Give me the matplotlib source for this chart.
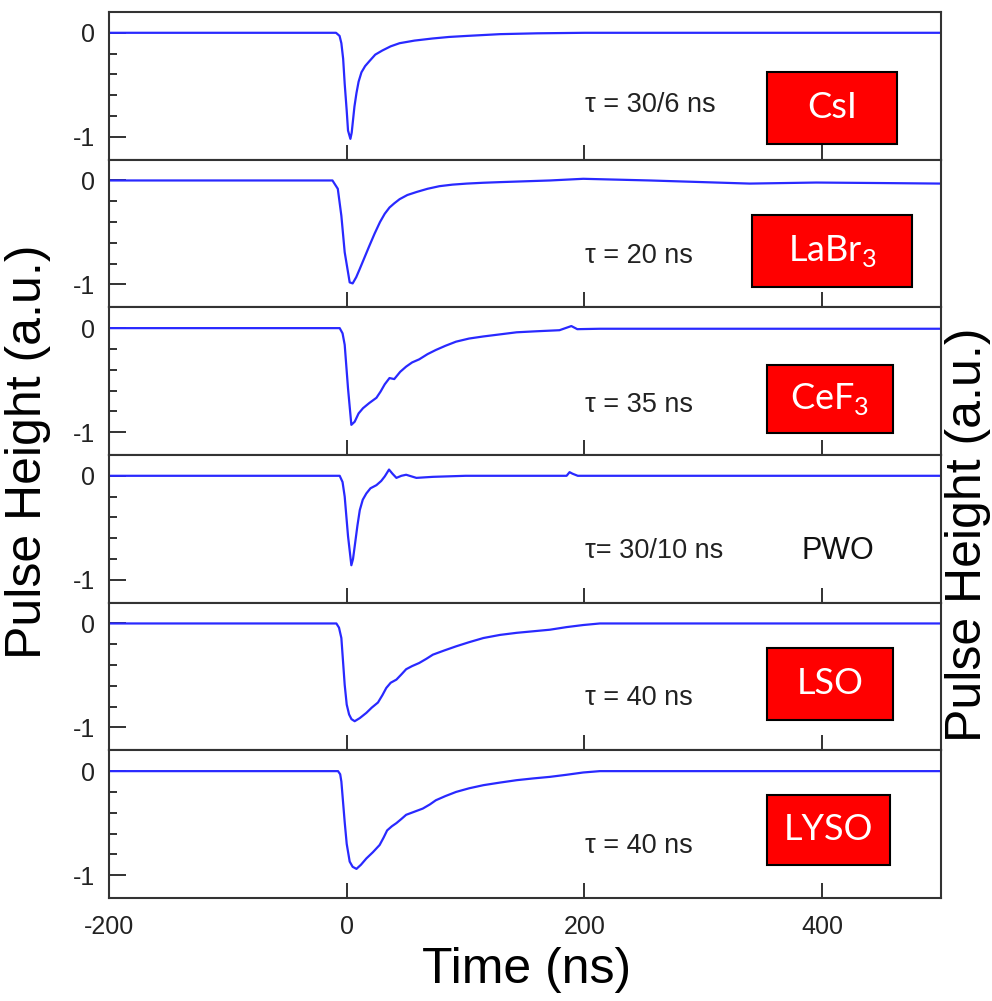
import matplotlib.pyplot as plt
from matplotlib.patches import Rectangle

plt.rcParams['font.family'] = ['Liberation Sans', 'DejaVu Sans']
plt.rcParams['mathtext.fontset'] = 'custom'
plt.rcParams['mathtext.rm'] = 'Lato'
plt.rcParams['axes.unicode_minus'] = False

W, H = 992, 1001

# pulse shapes (time in ns, height in a.u.)
t_csi = [-200, -9, -6, -4.5, -3, -1.7, 0, 1.1, 3.1, 4.2, 5.3, 6.5, 8.2, 10, 12.4, 15.5, 19.3, 24, 30, 37,
         44.5, 57, 72, 86, 101, 129, 160, 200, 500]
v_csi = [0, 0, -0.03, -0.10, -0.25, -0.49, -0.75, -0.94, -1.02, -0.96, -0.84, -0.71, -0.58, -0.47, -0.38,
         -0.32, -0.27, -0.21, -0.17, -0.13, -0.10, -0.075, -0.055, -0.04, -0.03, -0.013, -0.005, 0, 0]

t_labr = [-200, -12, -7.5, -4.5, -1.7, 2.5, 5, 8, 11, 15, 19, 23.5, 28, 32, 36, 40, 44.5, 51, 59, 68, 78,
          89, 101, 115, 129, 150, 171, 199, 255, 311, 339, 395, 451, 500]
v_labr = [0, 0, -0.08, -0.34, -0.69, -0.98, -0.99, -0.93, -0.85, -0.74, -0.63, -0.51, -0.40, -0.32, -0.26,
          -0.22, -0.18, -0.14, -0.11, -0.08, -0.055, -0.04, -0.03, -0.022, -0.016, -0.008, 0, 0.016,
          0.0, -0.02, -0.03, -0.02, -0.025, -0.03]

t_cef = [-200, -5.9, -3.5, -1.7, 1.1, 3.9, 6.7, 10, 13.7, 19, 25, 28.5, 32, 36, 40, 45, 50, 55, 61, 68, 75,
         83, 92, 103, 115, 129, 143, 160, 179, 189, 194, 213, 500]
v_cef = [0, 0, -0.05, -0.16, -0.58, -0.93, -0.90, -0.82, -0.77, -0.72, -0.67, -0.61, -0.54, -0.48, -0.49,
         -0.42, -0.37, -0.33, -0.30, -0.25, -0.21, -0.17, -0.13, -0.10, -0.08, -0.06, -0.04, -0.03,
         -0.02, 0.02, -0.01, -0.006, -0.006]

t_pwo = [-200, -5.9, -3.5, -1.7, 1.1, 3.9, 5.3, 6.7, 9, 11, 13.5, 16.5, 20, 25, 29, 32, 35.6, 38.5, 41.8,
         46, 50, 58.6, 72.5, 100, 185, 187.5, 190, 194.4, 500]
v_pwo = [0, 0, -0.06, -0.20, -0.58, -0.86, -0.80, -0.68, -0.48, -0.33, -0.23, -0.17, -0.12, -0.09,
         -0.05, -0.006, 0.06, 0.02, -0.02, 0.0, 0.01, -0.02, -0.01, 0, 0, 0.035, 0.02, 0, 0]

t_lso = [-200, -8.7, -6.5, -4.5, -1.7, 0, 2, 4, 6.7, 11, 16.5, 21, 26.3, 30, 33.3, 37, 41.8, 46, 50, 55,
         61, 67, 72.5, 82, 92, 103, 115, 129, 143, 157, 171, 185, 199, 213, 500]
v_lso = [0, 0, -0.04, -0.14, -0.59, -0.78, -0.875, -0.92, -0.94, -0.91, -0.86, -0.81, -0.76, -0.69,
         -0.62, -0.57, -0.54, -0.49, -0.44, -0.41, -0.38, -0.34, -0.30, -0.26, -0.22, -0.18, -0.14,
         -0.11, -0.09, -0.075, -0.06, -0.035, -0.015, 0, 0]

t_lyso = [-200, -7.3, -5.5, -4.5, -1.7, 0, 2.5, 5, 8.2, 12, 16.5, 22, 27.7, 31, 34, 38, 41.8, 46, 50,
          57, 64, 70, 75, 83, 92, 103, 115, 129, 143, 157, 171, 185, 199, 213, 500]
v_lyso = [0, 0, -0.03, -0.10, -0.49, -0.70, -0.87, -0.92, -0.94, -0.90, -0.84, -0.78, -0.71, -0.64,
          -0.57, -0.53, -0.50, -0.46, -0.42, -0.39, -0.36, -0.32, -0.28, -0.24, -0.20, -0.165,
          -0.135, -0.11, -0.087, -0.07, -0.055, -0.035, -0.013, 0, 0]

times = [t_csi, t_labr, t_cef, t_pwo, t_lso, t_lyso]
values = [v_csi, v_labr, v_cef, v_pwo, v_lso, v_lyso]
tau_labels = ['τ = 30/6 ns', 'τ = 20 ns', 'τ = 35 ns', 'τ= 30/10 ns', 'τ = 40 ns', 'τ = 40 ns']
crystals = ['CsI', r'LaBr$_\mathregular{3}$', r'CeF$_\mathregular{3}$', 'PWO', 'LSO', 'LYSO']
boxed = [True, True, True, False, True, True]

# boxes in picture pixels: left, top, right, bottom
boxes = [(767, 72, 897, 144), (752, 215, 912, 287), (767, 365, 893, 433), None,
         (767, 648, 893, 720), (767, 795, 890, 865)]
tau_y = [105, 256, 405, 551, 698, 846]


def main():
    fig = plt.figure(figsize=(W / 100, H / 100), dpi=100)
    left, right = 109 / W, 941 / W
    top, bottom = 1 - 12 / H, 1 - 898 / H
    gs = fig.add_gridspec(6, 1, left=left, right=right, top=top, bottom=bottom, hspace=0)

    for i in range(6):
        ax = fig.add_subplot(gs[i])
        ax.plot(times[i], values[i], color='#2929ff', lw=1.6)
        ax.set_xlim(-200, 500)
        ax.set_ylim(-1.22, 0.2)
        ax.set_yticks([0, -1])
        ax.set_yticklabels(['0', '-1'])
        ax.set_yticks([-0.2, -0.4, -0.6, -0.8], minor=True)
        ax.set_xticks([-200, 0, 200, 400])
        ax.tick_params(axis='both', which='both', direction='in', colors='#222222',
                       labelsize=18, right=False, top=False)
        ax.tick_params(axis='y', which='major', length=12, width=1.3, pad=10)
        ax.tick_params(axis='y', which='minor', length=6, width=1.3)
        ax.tick_params(axis='x', which='major', length=11, width=1.3, pad=12)
        for s in ax.spines.values():
            s.set_linewidth(1.5)
            s.set_color('#333333')
        if i < 5:
            ax.tick_params(axis='x', labelbottom=False)

        fig.text(585 / W, 1 - tau_y[i] / H, tau_labels[i], fontsize=19.5, color='#222222',
                 ha='left', va='center')
        if boxed[i]:
            x0, y0, x1, y1 = boxes[i]
            fig.add_artist(Rectangle((x0 / W, 1 - y1 / H), (x1 - x0) / W, (y1 - y0) / H,
                                     transform=fig.transFigure, facecolor='#ff0000',
                                     edgecolor='black', lw=1.5))
            fig.text((x0 + x1) / 2 / W, 1 - (y0 + y1) / 2 / H, crystals[i], family='Lato',
                     fontsize=26, color='white', ha='center', va='center')
        else:
            fig.text(838 / W, 1 - 551 / H, crystals[i], fontsize=22, color='#111111',
                     ha='center', va='center')

    fig.text(5 / W, 1 - 452 / H, 'Pulse Height (a.u.)', rotation=90, fontsize=36,
             ha='left', va='center')
    fig.text(945 / W, 1 - 535 / H, 'Pulse Height (a.u.)', rotation=90, fontsize=36,
             ha='left', va='center')
    fig.text(527 / W, 1 - 970 / H, 'Time (ns)', fontsize=36, ha='center', va='center')

    fig.savefig('out.png', dpi=100)


if __name__ == '__main__':
    main()
